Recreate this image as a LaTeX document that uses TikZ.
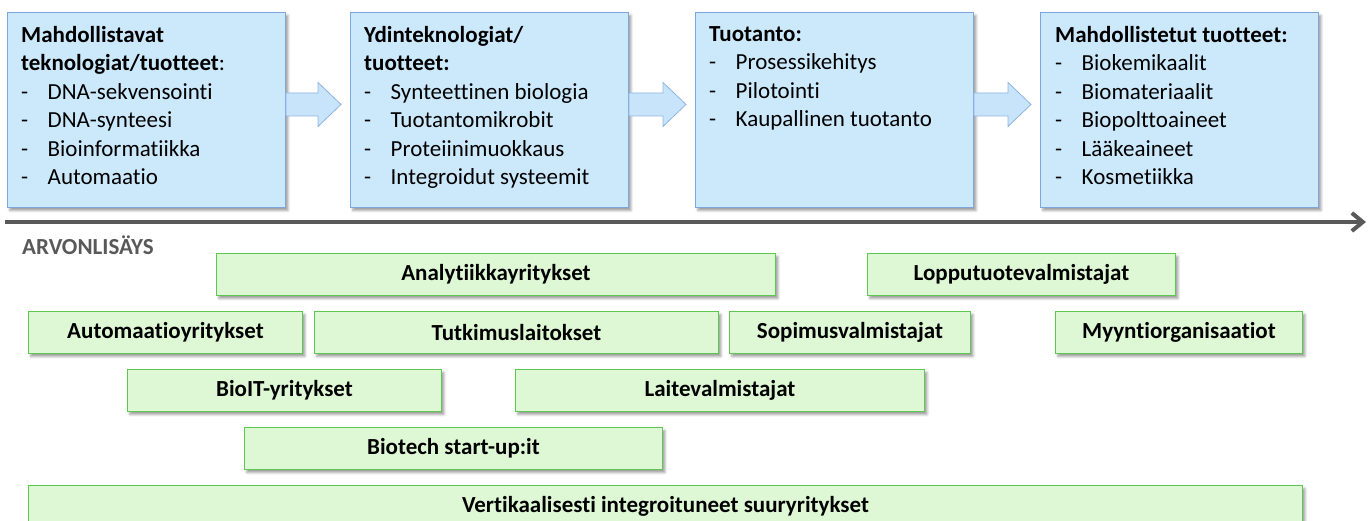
\documentclass[tikz,border=0pt]{standalone}
\usepackage{fontspec}
\setmainfont{Carlito}[Ligatures={NoCommon}]
\usepackage{tikz}
\usetikzlibrary{arrows.meta, calc, shadows.blur}

\definecolor{stagefill}{RGB}{204,233,252}
\definecolor{stageborder}{RGB}{126,166,222}
\definecolor{arrowfill}{RGB}{200,228,250}
\definecolor{arrowborder}{RGB}{141,180,226}
\definecolor{actorfill}{RGB}{222,248,214}
\definecolor{actorborder}{RGB}{92,200,80}
\definecolor{axisgray}{RGB}{89,89,89}

\tikzset{
  stagebox/.style={draw=stageborder, fill=stagefill, line width=0.9pt, anchor=north west,
    inner sep=0pt, minimum width=278pt, minimum height=195pt,
    blur shadow={shadow xshift=2.5pt, shadow yshift=-3pt, shadow blur radius=2.5pt, shadow opacity=40}},
  stagetext/.style={anchor=north west, inner sep=0pt, align=left,
    font=\fontsize{23}{28.5}\selectfont},
  actor/.style={draw=actorborder, fill=actorfill, line width=0.9pt, anchor=north west,
    inner sep=0pt, minimum height=42pt, font=\fontsize{23}{24}\selectfont\bfseries,
    blur shadow={shadow xshift=2.5pt, shadow yshift=-3pt, shadow blur radius=2.5pt, shadow opacity=40}},
  timeline/.style={line width=4pt, axisgray, -{Straight Barb[length=11pt, width=18pt]}},
}

% list item with a dash
\newcommand{\itm}[1]{\makebox[26.5pt][l]{-}#1}

% block arrow from one stage to the next
\newcommand{\stagearrow}[2]{%
  \filldraw[fill=arrowfill, draw=arrowborder, line width=0.8pt]
    ($(#1.east)+(0,-17)$) -- ($(#2.west)+(-32,-17)$) -- ($(#2.west)+(-32,-27.5)$)
    -- ($(#2.west)+(-9,-5.5)$) -- ($(#2.west)+(-32,16.5)$) -- ($(#2.west)+(-32,6)$)
    -- ($(#1.east)+(0,6)$) -- cycle;}

\begin{document}
\begin{tikzpicture}[x=1pt, y=-1pt]
    \useasboundingbox (0,0) rectangle (1371,520);

    % Stages
    \node[stagebox] (enabling) at (7,12) {};
    \node[stagebox] (core) at (350,12) {};
    \node[stagebox] (production) at (695,12) {};
    \node[stagebox] (products) at (1040,12) {};

    \stagearrow{enabling}{core}
    \stagearrow{core}{production}
    \stagearrow{production}{products}

    \node[stagetext] (enablingtext) at (21,26) {\textbf{Mahdollistavat}\\ \textbf{teknologiat/tuotteet}:\\
      \itm{DNA-sekvensointi}\\ \itm{DNA-synteesi}\\ \itm{Bioinformatiikka}\\ \itm{Automaatio}};
    \node[stagetext] (coretext) at (364,26) {\textbf{Ydinteknologiat/}\\ \textbf{tuotteet:}\\
      \itm{Synteettinen biologia}\\ \itm{Tuotantomikrobit}\\ \itm{Proteiinimuokkaus}\\ \itm{Integroidut systeemit}};
    \node[stagetext] (productiontext) at (709,26) {\textbf{Tuotanto:}\\
      \itm{Prosessikehitys}\\ \itm{Pilotointi}\\ \itm{Kaupallinen tuotanto}};
    \node[stagetext] (productstext) at (1055,26) {\textbf{Mahdollistetut tuotteet:}\\
      \itm{Biokemikaalit}\\ \itm{Biomateriaalit}\\ \itm{Biopolttoaineet}\\ \itm{Lääkeaineet}\\ \itm{Kosmetiikka}};

    % Value chain axis
    \coordinate (timestart) at (5,222);
    \coordinate (timeend) at (1366,222);
    \draw[timeline] (timestart) -- (timeend);

    \node[anchor=base west, inner sep=0pt, text=axisgray, font=\fontsize{23}{24}\selectfont\bfseries]
      (valueadd) at (22,254) {ARVONLISÄYS};

    % Actors
    \node[actor, minimum width=559pt] (analytics) at (216,253) {Analytiikkayritykset};
    \node[actor, minimum width=308pt] (endproducts) at (867,253) {Lopputuotevalmistajat};
    \node[actor, minimum width=274pt] (automation) at (28,311) {Automaatioyritykset};
    \node[actor, minimum width=404pt] (research) at (314,311) {Tutkimuslaitokset};
    \node[actor, minimum width=241pt] (contract) at (729,311) {Sopimusvalmistajat};
    \node[actor, minimum width=247pt] (sales) at (1055,311) {Myyntiorganisaatiot};
    \node[actor, minimum width=314pt] (bioit) at (127,369) {BioIT-yritykset};
    \node[actor, minimum width=409pt] (devices) at (515,369) {Laitevalmistajat};
    \node[actor, minimum width=418pt] (startups) at (244,427) {Biotech start-up:it};
    \node[actor, minimum width=1274pt] (bigcorps) at (28,485) {Vertikaalisesti integroituneet suuryritykset};
\end{tikzpicture}
\end{document}
